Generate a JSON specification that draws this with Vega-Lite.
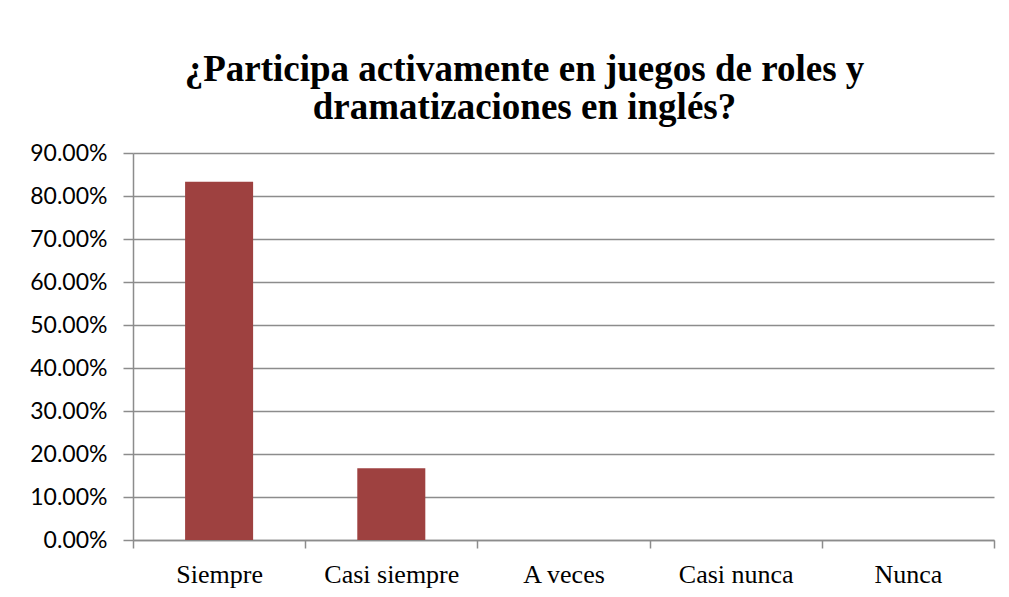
{
  "$schema": "https://vega.github.io/schema/vega-lite/v6.json",
  "width": 861,
  "height": 387,
  "autosize": {"type": "none"},
  "padding": {"left": 133, "top": 153, "right": 15, "bottom": 57},
  "background": "white",
  "title": {
    "text": ["¿Participa activamente en juegos de roles y", "dramatizaciones en inglés?"],
    "font": "'Liberation Serif', 'Times New Roman', serif",
    "fontSize": 37,
    "fontWeight": "bold",
    "color": "black",
    "lineHeight": 38,
    "anchor": "middle",
    "dx": -39,
    "offset": 15
  },
  "data": {
    "values": [
      {"categoria": "Siempre", "porcentaje": 0.8333},
      {"categoria": "Casi siempre", "porcentaje": 0.1667},
      {"categoria": "A veces", "porcentaje": 0},
      {"categoria": "Casi nunca", "porcentaje": 0},
      {"categoria": "Nunca", "porcentaje": 0}
    ]
  },
  "mark": {"type": "bar", "color": "#9e4140", "width": {"band": 0.395}},
  "encoding": {
    "x": {
      "field": "categoria",
      "type": "nominal",
      "sort": null,
      "scale": {"paddingInner": 0, "paddingOuter": 0},
      "axis": {
        "title": null,
        "labelAngle": 0,
        "labelFont": "'Liberation Serif', 'Times New Roman', serif",
        "labelFontSize": 26,
        "labelColor": "black",
        "labelPadding": 13,
        "tickBand": "extent",
        "tickSize": 8,
        "tickColor": "#8c8c8c",
        "tickWidth": 1.5,
        "domainColor": "#8c8c8c",
        "domainWidth": 1.5,
        "grid": false
      }
    },
    "y": {
      "field": "porcentaje",
      "type": "quantitative",
      "scale": {"domain": [0, 0.9], "nice": false},
      "axis": {
        "title": null,
        "format": ".2%",
        "values": [0, 0.1, 0.2, 0.3, 0.4, 0.5, 0.6, 0.7, 0.8, 0.9],
        "labelFont": "Lato",
        "labelFontSize": 23,
        "labelColor": "black",
        "labelPadding": 16,
        "tickSize": 10,
        "tickColor": "#8c8c8c",
        "tickWidth": 1.5,
        "domainColor": "#8c8c8c",
        "domainWidth": 1.5,
        "grid": true,
        "gridColor": "#8c8c8c",
        "gridWidth": 1.5
      }
    }
  },
  "config": {"view": {"stroke": null}}
}
